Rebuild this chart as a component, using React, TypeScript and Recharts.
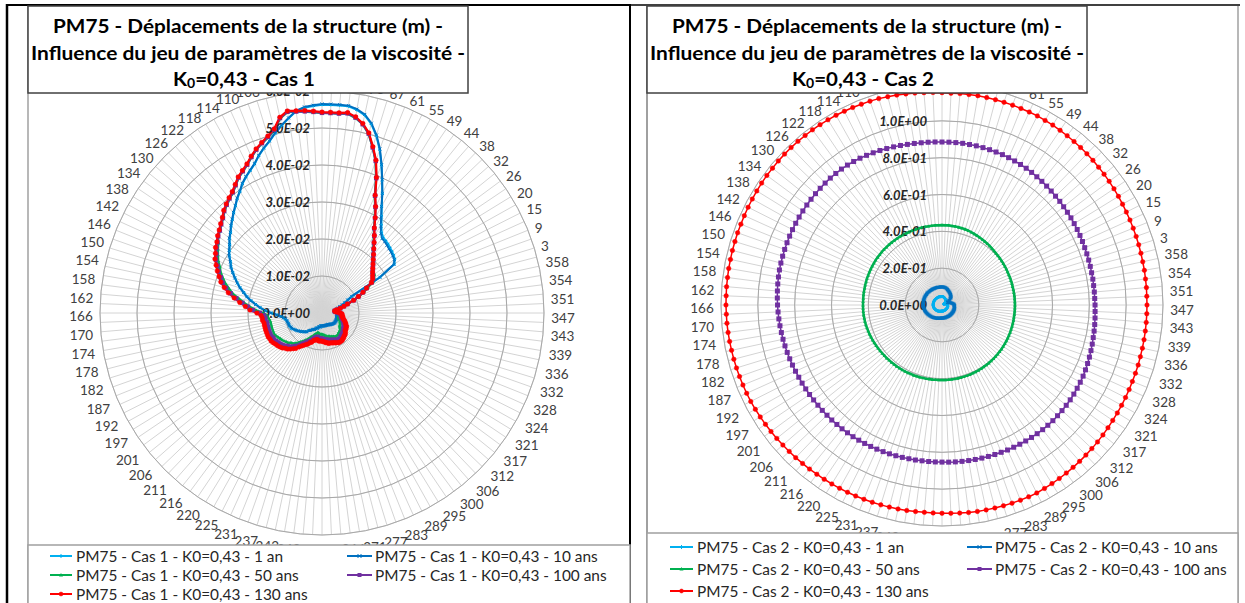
import React from 'react';
import { RadarChart, Radar, PolarGrid, PolarAngleAxis, PolarRadiusAxis } from 'recharts';

// Libellés d'angle (un libellé toutes les deux catégories)
const ANGLE_LABELS = [
  '84', '78', '73', '67', '61', '55', '49', '44', '38', '32', '26', '20', '15', '9', '3',
  '358', '354', '351', '347', '343', '339', '336', '332', '328', '324', '321', '317', '312',
  '306', '300', '295', '289', '283', '277', '271', '266', '260', '254', '248', '242', '237',
  '231', '225', '220', '216', '211', '206', '201', '197', '192', '187', '182', '178', '174',
  '170', '166', '162', '158', '154', '150', '146', '142', '138', '134', '130', '126', '122',
  '118', '114', '110', '106', '101', '96', '90',
];

const SERIES_NAMES = ['1 an', '10 ans', '50 ans', '100 ans', '130 ans'];
const SERIES_COLORS = ['#00B0F0', '#0070C0', '#00B050', '#7030A0', '#FF0000'];
const SERIES_MARKERS = ['plus', 'cross', 'triangle', 'square', 'circle'];

const CAS1_TICKS_MAX = 0.06;
const CAS2_TICKS_MAX = 1.2;

// Cas 1 - déplacements (m)
const CAS1_1AN = [
  0.0563, 0.0563, 0.0563, 0.0557, 0.0547, 0.0528, 0.0501, 0.0468, 0.0431, 0.0394,
  0.0362, 0.0331, 0.0307, 0.0287, 0.0271, 0.0263, 0.0261, 0.0258, 0.0255, 0.0252,
  0.0249, 0.0245, 0.0236, 0.0184, 0.0092, 0.0078, 0.0068, 0.0059, 0.0051, 0.0046,
  0.0043, 0.0041, 0.0041, 0.0041, 0.0041, 0.0041, 0.0041, 0.0041, 0.0041, 0.0041,
  0.0041, 0.0041, 0.0041, 0.0041, 0.0043, 0.0043, 0.0043, 0.0043, 0.0043, 0.0043,
  0.0043, 0.0043, 0.0043, 0.0043, 0.0041, 0.0041, 0.0041, 0.0038, 0.0038, 0.0038,
  0.0038, 0.0035, 0.0035, 0.0035, 0.0035, 0.0035, 0.0035, 0.0035, 0.0035, 0.0035,
  0.0035, 0.0035, 0.0035, 0.0035, 0.0035, 0.0035, 0.0038, 0.0038, 0.0038, 0.0041,
  0.0043, 0.0043, 0.0046, 0.0049, 0.0049, 0.0051, 0.0054, 0.0057, 0.0059, 0.0065,
  0.0068, 0.0070, 0.0073, 0.0076, 0.0078, 0.0081, 0.0084, 0.0086, 0.0089, 0.0092,
  0.0092, 0.0095, 0.0095, 0.0095, 0.0097, 0.0097, 0.0100, 0.0105, 0.0111, 0.0121,
  0.0137, 0.0153, 0.0167, 0.0180, 0.0194, 0.0207, 0.0218, 0.0231, 0.0242, 0.0253,
  0.0264, 0.0275, 0.0283, 0.0294, 0.0302, 0.0310, 0.0321, 0.0329, 0.0340, 0.0350,
  0.0361, 0.0372, 0.0385, 0.0396, 0.0410, 0.0421, 0.0431, 0.0442, 0.0458, 0.0472,
  0.0485, 0.0502, 0.0518, 0.0534, 0.0550, 0.0557, 0.0560, 0.0563,
];
const CAS1_10ANS = [
  0.0565, 0.0565, 0.0565, 0.0559, 0.0549, 0.0530, 0.0503, 0.0470, 0.0432, 0.0395,
  0.0362, 0.0330, 0.0305, 0.0284, 0.0268, 0.0259, 0.0257, 0.0254, 0.0251, 0.0249,
  0.0246, 0.0243, 0.0235, 0.0184, 0.0092, 0.0078, 0.0068, 0.0059, 0.0051, 0.0046,
  0.0043, 0.0041, 0.0041, 0.0041, 0.0041, 0.0041, 0.0041, 0.0041, 0.0041, 0.0041,
  0.0041, 0.0041, 0.0041, 0.0041, 0.0043, 0.0043, 0.0043, 0.0043, 0.0043, 0.0043,
  0.0043, 0.0043, 0.0043, 0.0043, 0.0041, 0.0041, 0.0041, 0.0038, 0.0038, 0.0038,
  0.0038, 0.0035, 0.0035, 0.0035, 0.0035, 0.0035, 0.0035, 0.0035, 0.0035, 0.0035,
  0.0035, 0.0035, 0.0035, 0.0035, 0.0035, 0.0035, 0.0038, 0.0038, 0.0038, 0.0041,
  0.0043, 0.0043, 0.0046, 0.0049, 0.0049, 0.0051, 0.0054, 0.0057, 0.0059, 0.0065,
  0.0068, 0.0070, 0.0073, 0.0076, 0.0078, 0.0081, 0.0084, 0.0086, 0.0089, 0.0092,
  0.0092, 0.0095, 0.0095, 0.0095, 0.0097, 0.0097, 0.0100, 0.0105, 0.0111, 0.0122,
  0.0138, 0.0154, 0.0168, 0.0181, 0.0195, 0.0208, 0.0219, 0.0232, 0.0243, 0.0254,
  0.0265, 0.0276, 0.0284, 0.0295, 0.0303, 0.0311, 0.0322, 0.0330, 0.0341, 0.0351,
  0.0362, 0.0373, 0.0386, 0.0397, 0.0411, 0.0422, 0.0432, 0.0443, 0.0459, 0.0473,
  0.0486, 0.0503, 0.0519, 0.0535, 0.0551, 0.0559, 0.0562, 0.0565,
];
const CAS1_50ANS = [
  0.0541, 0.0541, 0.0543, 0.0535, 0.0522, 0.0500, 0.0468, 0.0435, 0.0392, 0.0346,
  0.0319, 0.0292, 0.0268, 0.0250, 0.0234, 0.0220, 0.0208, 0.0197, 0.0189, 0.0181,
  0.0174, 0.0176, 0.0170, 0.0162, 0.0143, 0.0127, 0.0111, 0.0092, 0.0073, 0.0062,
  0.0051, 0.0041, 0.0035, 0.0035, 0.0038, 0.0043, 0.0049, 0.0051, 0.0049, 0.0046,
  0.0046, 0.0046, 0.0046, 0.0046, 0.0049, 0.0051, 0.0054, 0.0054, 0.0057, 0.0057,
  0.0059, 0.0059, 0.0062, 0.0065, 0.0068, 0.0068, 0.0070, 0.0070, 0.0073, 0.0073,
  0.0073, 0.0073, 0.0070, 0.0070, 0.0068, 0.0068, 0.0065, 0.0065, 0.0065, 0.0062,
  0.0062, 0.0059, 0.0059, 0.0057, 0.0057, 0.0057, 0.0057, 0.0054, 0.0054, 0.0057,
  0.0059, 0.0062, 0.0068, 0.0070, 0.0076, 0.0081, 0.0086, 0.0092, 0.0097, 0.0103,
  0.0108, 0.0114, 0.0116, 0.0122, 0.0124, 0.0127, 0.0130, 0.0132, 0.0135, 0.0138,
  0.0141, 0.0141, 0.0141, 0.0141, 0.0141, 0.0141, 0.0141, 0.0143, 0.0146, 0.0149,
  0.0159, 0.0178, 0.0195, 0.0211, 0.0227, 0.0246, 0.0259, 0.0273, 0.0284, 0.0295,
  0.0303, 0.0314, 0.0322, 0.0330, 0.0338, 0.0349, 0.0354, 0.0362, 0.0370, 0.0381,
  0.0389, 0.0397, 0.0405, 0.0416, 0.0430, 0.0438, 0.0449, 0.0462, 0.0476, 0.0486,
  0.0497, 0.0511, 0.0538, 0.0551, 0.0549, 0.0546, 0.0543, 0.0541,
];
const CAS1_100ANS = [
  0.0541, 0.0541, 0.0544, 0.0536, 0.0522, 0.0501, 0.0468, 0.0436, 0.0393, 0.0348,
  0.0321, 0.0294, 0.0269, 0.0252, 0.0236, 0.0222, 0.0210, 0.0200, 0.0191, 0.0183,
  0.0176, 0.0171, 0.0166, 0.0158, 0.0138, 0.0124, 0.0108, 0.0092, 0.0073, 0.0062,
  0.0051, 0.0041, 0.0035, 0.0035, 0.0037, 0.0042, 0.0047, 0.0051, 0.0051, 0.0051,
  0.0053, 0.0053, 0.0055, 0.0057, 0.0060, 0.0062, 0.0064, 0.0067, 0.0069, 0.0069,
  0.0071, 0.0071, 0.0074, 0.0076, 0.0078, 0.0078, 0.0081, 0.0081, 0.0084, 0.0084,
  0.0084, 0.0084, 0.0081, 0.0081, 0.0078, 0.0078, 0.0076, 0.0076, 0.0076, 0.0073,
  0.0073, 0.0071, 0.0071, 0.0069, 0.0069, 0.0069, 0.0069, 0.0066, 0.0066, 0.0069,
  0.0071, 0.0076, 0.0079, 0.0084, 0.0087, 0.0092, 0.0097, 0.0103, 0.0110, 0.0115,
  0.0121, 0.0126, 0.0129, 0.0134, 0.0137, 0.0140, 0.0142, 0.0145, 0.0148, 0.0148,
  0.0151, 0.0151, 0.0151, 0.0151, 0.0151, 0.0151, 0.0151, 0.0154, 0.0154, 0.0157,
  0.0168, 0.0187, 0.0201, 0.0217, 0.0235, 0.0253, 0.0268, 0.0281, 0.0290, 0.0301,
  0.0310, 0.0321, 0.0327, 0.0335, 0.0341, 0.0349, 0.0355, 0.0363, 0.0371, 0.0382,
  0.0390, 0.0398, 0.0406, 0.0417, 0.0430, 0.0439, 0.0449, 0.0463, 0.0476, 0.0487,
  0.0498, 0.0512, 0.0539, 0.0552, 0.0549, 0.0547, 0.0544, 0.0541,
];
const CAS1_130ANS = [
  0.0543, 0.0543, 0.0546, 0.0538, 0.0524, 0.0503, 0.0470, 0.0438, 0.0395, 0.0349,
  0.0322, 0.0295, 0.0270, 0.0253, 0.0237, 0.0223, 0.0211, 0.0200, 0.0191, 0.0183,
  0.0176, 0.0170, 0.0165, 0.0157, 0.0138, 0.0124, 0.0108, 0.0092, 0.0073, 0.0062,
  0.0051, 0.0041, 0.0035, 0.0035, 0.0038, 0.0043, 0.0049, 0.0054, 0.0054, 0.0054,
  0.0057, 0.0057, 0.0059, 0.0062, 0.0065, 0.0068, 0.0070, 0.0073, 0.0076, 0.0076,
  0.0078, 0.0078, 0.0081, 0.0084, 0.0086, 0.0086, 0.0089, 0.0089, 0.0092, 0.0092,
  0.0092, 0.0092, 0.0089, 0.0089, 0.0086, 0.0086, 0.0084, 0.0084, 0.0084, 0.0081,
  0.0081, 0.0078, 0.0078, 0.0076, 0.0076, 0.0076, 0.0076, 0.0073, 0.0073, 0.0076,
  0.0078, 0.0084, 0.0086, 0.0092, 0.0095, 0.0100, 0.0105, 0.0111, 0.0119, 0.0124,
  0.0130, 0.0135, 0.0138, 0.0143, 0.0146, 0.0149, 0.0151, 0.0154, 0.0157, 0.0157,
  0.0159, 0.0159, 0.0159, 0.0159, 0.0159, 0.0159, 0.0159, 0.0162, 0.0162, 0.0165,
  0.0176, 0.0195, 0.0208, 0.0224, 0.0241, 0.0259, 0.0273, 0.0286, 0.0295, 0.0305,
  0.0314, 0.0324, 0.0330, 0.0338, 0.0343, 0.0351, 0.0357, 0.0365, 0.0373, 0.0384,
  0.0392, 0.0400, 0.0408, 0.0419, 0.0432, 0.0441, 0.0451, 0.0465, 0.0478, 0.0489,
  0.0500, 0.0514, 0.0541, 0.0554, 0.0551, 0.0549, 0.0546, 0.0543,
];

// Cas 2 - déplacements (m)
const CAS2_1AN = [
  0.046, 0.046, 0.045, 0.045, 0.044, 0.043, 0.042, 0.041, 0.040, 0.039,
  0.038, 0.037, 0.036, 0.035, 0.034, 0.033, 0.032, 0.030, 0.028, 0.026,
  0.023, 0.020, 0.017, 0.014, 0.012, 0.011, 0.011, 0.012, 0.014, 0.017,
  0.020, 0.023, 0.025, 0.027, 0.028, 0.029, 0.030, 0.030, 0.031, 0.031,
  0.031, 0.031, 0.032, 0.032, 0.032, 0.032, 0.032, 0.032, 0.032, 0.032,
  0.032, 0.032, 0.032, 0.032, 0.032, 0.032, 0.032, 0.032, 0.032, 0.032,
  0.032, 0.032, 0.032, 0.032, 0.032, 0.032, 0.032, 0.033, 0.033, 0.033,
  0.033, 0.033, 0.033, 0.033, 0.033, 0.034, 0.034, 0.034, 0.035, 0.035,
  0.036, 0.036, 0.037, 0.037, 0.038, 0.038, 0.039, 0.039, 0.040, 0.040,
  0.041, 0.041, 0.042, 0.042, 0.043, 0.043, 0.044, 0.044, 0.045, 0.045,
  0.046, 0.046, 0.046, 0.047, 0.047, 0.047, 0.047, 0.047, 0.048, 0.048,
  0.048, 0.048, 0.048, 0.048, 0.048, 0.048, 0.048, 0.048, 0.048, 0.048,
  0.048, 0.048, 0.048, 0.048, 0.048, 0.048, 0.048, 0.047, 0.047, 0.047,
  0.047, 0.047, 0.047, 0.047, 0.047, 0.047, 0.047, 0.047, 0.047, 0.047,
  0.047, 0.047, 0.046, 0.046, 0.046, 0.046, 0.046, 0.046,
];
const CAS2_10ANS = [
  0.098, 0.098, 0.097, 0.096, 0.095, 0.093, 0.091, 0.089, 0.087, 0.085,
  0.083, 0.081, 0.079, 0.077, 0.075, 0.073, 0.071, 0.069, 0.067, 0.064,
  0.060, 0.055, 0.049, 0.043, 0.038, 0.035, 0.034, 0.035, 0.038, 0.042,
  0.047, 0.052, 0.056, 0.060, 0.063, 0.065, 0.066, 0.067, 0.068, 0.068,
  0.069, 0.069, 0.069, 0.070, 0.070, 0.070, 0.070, 0.070, 0.070, 0.070,
  0.070, 0.070, 0.070, 0.070, 0.070, 0.070, 0.070, 0.070, 0.070, 0.070,
  0.070, 0.070, 0.070, 0.070, 0.070, 0.070, 0.070, 0.071, 0.071, 0.071,
  0.071, 0.071, 0.071, 0.071, 0.071, 0.072, 0.072, 0.073, 0.073, 0.074,
  0.075, 0.076, 0.077, 0.078, 0.079, 0.080, 0.081, 0.082, 0.083, 0.084,
  0.085, 0.086, 0.087, 0.088, 0.089, 0.090, 0.091, 0.092, 0.093, 0.094,
  0.095, 0.096, 0.097, 0.098, 0.099, 0.100, 0.100, 0.101, 0.101, 0.102,
  0.102, 0.102, 0.103, 0.103, 0.103, 0.103, 0.103, 0.103, 0.103, 0.103,
  0.103, 0.103, 0.103, 0.103, 0.102, 0.102, 0.102, 0.102, 0.101, 0.101,
  0.101, 0.101, 0.100, 0.100, 0.100, 0.100, 0.099, 0.099, 0.099, 0.099,
  0.099, 0.099, 0.099, 0.098, 0.098, 0.098, 0.098, 0.098,
];
const CAS2_50ANS = [
  0.434, 0.434, 0.433, 0.433, 0.432, 0.431, 0.430, 0.428, 0.426, 0.424,
  0.422, 0.420, 0.418, 0.416, 0.414, 0.412, 0.410, 0.408, 0.406, 0.405,
  0.404, 0.403, 0.402, 0.401, 0.400, 0.399, 0.398, 0.398, 0.397, 0.397,
  0.396, 0.396, 0.396, 0.396, 0.396, 0.396, 0.396, 0.396, 0.396, 0.396,
  0.396, 0.397, 0.397, 0.398, 0.398, 0.399, 0.399, 0.400, 0.400, 0.401,
  0.401, 0.402, 0.402, 0.403, 0.403, 0.404, 0.404, 0.405, 0.405, 0.405,
  0.406, 0.406, 0.406, 0.406, 0.407, 0.407, 0.407, 0.407, 0.407, 0.407,
  0.407, 0.407, 0.407, 0.407, 0.407, 0.407, 0.408, 0.408, 0.409, 0.409,
  0.410, 0.410, 0.411, 0.411, 0.412, 0.412, 0.413, 0.413, 0.414, 0.414,
  0.415, 0.415, 0.416, 0.416, 0.417, 0.418, 0.419, 0.420, 0.421, 0.422,
  0.423, 0.424, 0.425, 0.426, 0.427, 0.428, 0.428, 0.429, 0.429, 0.429,
  0.429, 0.429, 0.429, 0.430, 0.430, 0.430, 0.431, 0.431, 0.432, 0.432,
  0.433, 0.433, 0.434, 0.434, 0.435, 0.435, 0.435, 0.436, 0.436, 0.436,
  0.436, 0.436, 0.436, 0.436, 0.436, 0.436, 0.435, 0.435, 0.435, 0.435,
  0.435, 0.435, 0.435, 0.434, 0.434, 0.434, 0.434, 0.434,
];
const CAS2_100ANS = [
  0.885, 0.885, 0.885, 0.884, 0.884, 0.883, 0.882, 0.881, 0.880, 0.878,
  0.876, 0.874, 0.872, 0.869, 0.866, 0.863, 0.860, 0.857, 0.854, 0.852,
  0.849, 0.847, 0.845, 0.843, 0.841, 0.839, 0.837, 0.835, 0.834, 0.833,
  0.832, 0.831, 0.831, 0.830, 0.830, 0.830, 0.831, 0.832, 0.834, 0.836,
  0.838, 0.840, 0.843, 0.846, 0.849, 0.852, 0.855, 0.858, 0.860, 0.862,
  0.864, 0.866, 0.867, 0.868, 0.869, 0.870, 0.870, 0.870, 0.869, 0.868,
  0.867, 0.866, 0.865, 0.864, 0.862, 0.861, 0.860, 0.859, 0.858, 0.857,
  0.856, 0.855, 0.854, 0.853, 0.853, 0.853, 0.853, 0.854, 0.854, 0.855,
  0.856, 0.857, 0.858, 0.859, 0.860, 0.861, 0.862, 0.863, 0.863, 0.864,
  0.864, 0.865, 0.865, 0.866, 0.866, 0.867, 0.868, 0.869, 0.870, 0.871,
  0.873, 0.875, 0.877, 0.879, 0.881, 0.883, 0.885, 0.887, 0.889, 0.891,
  0.893, 0.895, 0.897, 0.899, 0.901, 0.903, 0.904, 0.905, 0.906, 0.907,
  0.908, 0.909, 0.910, 0.911, 0.912, 0.913, 0.914, 0.915, 0.916, 0.917,
  0.918, 0.918, 0.918, 0.917, 0.915, 0.913, 0.910, 0.907, 0.904, 0.901,
  0.898, 0.895, 0.892, 0.890, 0.888, 0.887, 0.886, 0.885,
];
const CAS2_130ANS = [
  1.151, 1.152, 1.152, 1.153, 1.152, 1.152, 1.151, 1.151, 1.150, 1.150,
  1.150, 1.148, 1.147, 1.145, 1.143, 1.141, 1.139, 1.137, 1.135, 1.133,
  1.131, 1.129, 1.127, 1.125, 1.123, 1.121, 1.120, 1.119, 1.118, 1.117,
  1.116, 1.115, 1.115, 1.114, 1.114, 1.113, 1.113, 1.113, 1.113, 1.113,
  1.113, 1.113, 1.113, 1.114, 1.114, 1.114, 1.115, 1.116, 1.117, 1.118,
  1.119, 1.121, 1.123, 1.125, 1.127, 1.129, 1.131, 1.133, 1.135, 1.137,
  1.139, 1.141, 1.143, 1.143, 1.142, 1.141, 1.140, 1.139, 1.138, 1.137,
  1.136, 1.134, 1.132, 1.131, 1.130, 1.130, 1.131, 1.132, 1.133, 1.134,
  1.135, 1.136, 1.137, 1.138, 1.139, 1.140, 1.141, 1.142, 1.143, 1.145,
  1.146, 1.148, 1.149, 1.151, 1.153, 1.155, 1.157, 1.159, 1.161, 1.163,
  1.164, 1.165, 1.166, 1.167, 1.168, 1.169, 1.170, 1.171, 1.172, 1.172,
  1.173, 1.173, 1.174, 1.174, 1.175, 1.175, 1.176, 1.176, 1.177, 1.177,
  1.178, 1.179, 1.180, 1.181, 1.182, 1.183, 1.183, 1.184, 1.184, 1.184,
  1.184, 1.183, 1.183, 1.182, 1.181, 1.180, 1.178, 1.177, 1.175, 1.174,
  1.172, 1.169, 1.166, 1.163, 1.160, 1.157, 1.155, 1.153,
];

const CAS1_SERIES = [CAS1_1AN, CAS1_10ANS, CAS1_50ANS, CAS1_100ANS, CAS1_130ANS];
const CAS2_SERIES = [CAS2_1AN, CAS2_10ANS, CAS2_50ANS, CAS2_100ANS, CAS2_130ANS];

const FONT = 'Lato, "Noto Sans", sans-serif';
const N_CAT = CAS1_130ANS.length;
// Recharts décale les catégories d'une bande : on compense pour mettre la 1re en haut
const START_ANGLE = 90 - 360 / N_CAT;
const LABEL_SHIFT = 0.2;

const buildRows = (series: number[][]) =>
  series[0].map((_, i) => {
    const row: Record<string, number> = { idx: i };
    series.forEach((s, k) => { row[`s${k}`] = s[i]; });
    return row;
  });

// format 1.0E-02
const fmtE = (v: number) => {
  if (Math.abs(v) < 1e-12) return '0.0E+00';
  const e = Math.floor(Math.log10(Math.abs(v)) + 1e-9);
  const m = v / Math.pow(10, e);
  return `${m.toFixed(1)}E${e < 0 ? '-' : '+'}${String(Math.abs(e)).padStart(2, '0')}`;
};

const Marker = ({ kind, x, y, color, size }: { kind: string; x: number; y: number; color: string; size: number }) => {
  const h = size / 2;
  if (kind === 'circle') return <circle cx={x} cy={y} r={h} fill={color} stroke={color} strokeWidth={0.5} />;
  if (kind === 'square') return <rect x={x - h} y={y - h} width={size} height={size} fill={color} />;
  if (kind === 'triangle')
    return <polygon points={`${x},${y - h} ${x + h},${y + h * 0.8} ${x - h},${y + h * 0.8}`} fill={color} />;
  if (kind === 'cross')
    return (
      <path d={`M${x - h},${y - h}L${x + h},${y + h}M${x - h},${y + h}L${x + h},${y - h}`} stroke={color} strokeWidth={1} />
    );
  if (kind === 'plus')
    return <path d={`M${x - h},${y}L${x + h},${y}M${x},${y - h}L${x},${y + h}`} stroke={color} strokeWidth={1} />;
  return null;
};

const makeDot = (kind: string, color: string, size: number) => (props: any) => (
  <g key={`d-${props.index}`}>
    <Marker kind={kind} x={props.cx} y={props.cy} color={color} size={size} />
  </g>
);

const makeAngleTick = (cx: number, cy: number, R: number) => (props: any) => {
  const { x, y, payload } = props;
  const i = Number(payload.value);
  if (i % 2 !== 0) return <g />;
  const label = ANGLE_LABELS[i / 2];
  const d0 = ((Math.atan2(cy - y, x - cx) * 180) / Math.PI - LABEL_SHIFT) * Math.PI / 180;
  // les boîtes de texte Excel s'écrasent un peu vers l'horizontale
  const rad = d0 - (5 * Math.sin(d0) * Math.cos(d0) * Math.PI) / 180;
  const c = Math.cos(rad);
  const s = Math.sin(rad);
  const hw = label.length * 4;
  const r = R + 7 + hw * Math.abs(c) + 4 * Math.abs(s);
  return (
    <text x={cx + r * c} y={cy - r * s + 4} textAnchor="middle" dominantBaseline="central"
      fontFamily={FONT} fontSize={13.5} fill="#404040">
      {label}
    </text>
  );
};

const makeRadiusTick = (dx: number) => (props: any) => {
  const { x, y, payload } = props;
  return (
    <text x={x - dx} y={y} textAnchor="end" dominantBaseline="central" fontFamily={FONT}
      fontSize={13} fontWeight="bold" fontStyle="italic" fill="#262626">
      {fmtE(payload.value)}
    </text>
  );
};

interface PolarProps {
  series: number[][];
  max: number;
  width: number;
  height: number;
  cx: number;
  cy: number;
  R: number;
  tickDx: number;
  markerSizes: number[];
  strokeWidths: number[];
}

const Polar = ({ series, max, width, height, cx, cy, R, tickDx, markerSizes, strokeWidths }: PolarProps) => {
  const rows = buildRows(series);
  return (
    <RadarChart width={width} height={height} data={rows} cx={cx} cy={cy} outerRadius={R}
      startAngle={START_ANGLE} endAngle={START_ANGLE - 360} margin={{ top: 0, right: 0, bottom: 0, left: 0 }}>
      <PolarGrid gridType="circle" stroke="#d4d4d4" strokeWidth={1} />
      <PolarGrid gridType="circle" radialLines={false} stroke="#a8a8a8" strokeWidth={1} />
      {series.map((_, k) => (
        <Radar key={k} dataKey={`s${k}`} name={SERIES_NAMES[k]} stroke={SERIES_COLORS[k]}
          strokeWidth={strokeWidths[k]} fill="none" fillOpacity={0}
          dot={makeDot(SERIES_MARKERS[k], SERIES_COLORS[k], markerSizes[k])}
          isAnimationActive={false} />
      ))}
      <PolarAngleAxis dataKey="idx" type="category" tickLine={false} axisLine={false}
        tick={makeAngleTick(cx, cy, R)} />
      <PolarRadiusAxis angle={90} type="number" scale="linear" domain={[0, max]} tickCount={7}
        allowDecimals={true} allowDataOverflow={true} axisLine={false} tickLine={false}
        tick={makeRadiusTick(tickDx)} />
    </RadarChart>
  );
};

const LegendRow = ({ x1, x2, tx, y, k, cas }: { x1: number; x2: number; tx: number; y: number; k: number; cas: number }) => (
  <g>
    <line x1={x1} y1={y} x2={x2} y2={y} stroke={SERIES_COLORS[k]} strokeWidth={2} />
    <Marker kind={SERIES_MARKERS[k]} x={(x1 + x2) / 2} y={y} color={SERIES_COLORS[k]} size={4} />
    <text x={tx} y={y} dominantBaseline="central" fontFamily={FONT} fontSize={15.4} fill="#262626">
      {`PM75 - Cas ${cas} - K0=0,43 - ${SERIES_NAMES[k]}`}
    </text>
  </g>
);

const Title = ({ x, y, w, cas }: { x: number; y: number; w: number; cas: number }) => {
  const mid = x + w / 2;
  return (
    <g fontFamily={FONT} fontWeight="bold" fontSize={19} fill="#000">
      <rect x={x} y={y} width={w} height={93 - y} fill="#fff" stroke="#404040" strokeWidth={1.5} />
      <text x={mid} y={25} textAnchor="middle" dominantBaseline="central" textLength={390} lengthAdjust="spacingAndGlyphs">
        PM75 - Déplacements de la structure (m) -
      </text>
      <text x={mid} y={52} textAnchor="middle" dominantBaseline="central" textLength={434} lengthAdjust="spacingAndGlyphs">
        Influence du jeu de paramètres de la viscosité -
      </text>
      <text x={mid - 4} y={78} textAnchor="middle" dominantBaseline="central" textLength={142} lengthAdjust="spacingAndGlyphs">
        K<tspan fontSize={13} dy={5}>0</tspan><tspan dy={-5}>=0,43 - Cas {cas}</tspan>
      </text>
    </g>
  );
};

export default function App() {
  return (
    <div style={{ position: 'fixed', left: 0, top: 0, width: 1245, height: 603, background: '#fff', overflow: 'hidden' }}>
      <div style={{ position: 'absolute', left: 0, top: 0 }}>
        <Polar series={CAS1_SERIES} max={CAS1_TICKS_MAX} width={630} height={603} cx={322} cy={313} R={222}
          tickDx={12} markerSizes={[3, 3, 3.5, 4.5, 4.5]} strokeWidths={[2, 2, 2.25, 2.25, 2.25]} />
      </div>
      <div style={{ position: 'absolute', left: 630, top: 0 }}>
        <Polar series={CAS2_SERIES} max={CAS2_TICKS_MAX} width={615} height={603} cx={312} cy={305} R={221}
          tickDx={15} markerSizes={[3, 3, 3.5, 5, 4.5]} strokeWidths={[2.5, 3, 2.5, 1.5, 1.5]} />
      </div>
      <svg width={1245} height={603} style={{ position: 'absolute', left: 0, top: 0 }}>
        {/* cadres */}
        <line x1={7} y1={4} x2={7} y2={603} stroke="#000" strokeWidth={2.5} />
        <line x1={6} y1={5} x2={630} y2={5} stroke="#000" strokeWidth={2} />
        <line x1={630} y1={4} x2={630} y2={603} stroke="#000" strokeWidth={2} />
        <line x1={28} y1={6} x2={28} y2={603} stroke="#a0a0a0" strokeWidth={1.5} />
        <line x1={630} y1={5} x2={1240} y2={5} stroke="#000" strokeWidth={1.5} />
        <line x1={647} y1={6} x2={647} y2={603} stroke="#808080" strokeWidth={1.5} />
        <line x1={1238} y1={6} x2={1238} y2={603} stroke="#a0a0a0" strokeWidth={1.5} />

        <Title x={28} y={6} w={440} cas={1} />
        <Title x={647} y={6} w={440} cas={2} />

        <rect x={28} y={545} width={602} height={70} fill="#fff" stroke="#a0a0a0" strokeWidth={1.5} />
        <LegendRow x1={50} x2={72} tx={76} y={556} k={0} cas={1} />
        <LegendRow x1={347} x2={372} tx={375} y={556} k={1} cas={1} />
        <LegendRow x1={50} x2={72} tx={76} y={575} k={2} cas={1} />
        <LegendRow x1={347} x2={372} tx={375} y={575} k={3} cas={1} />
        <LegendRow x1={50} x2={72} tx={76} y={594} k={4} cas={1} />

        <rect x={647} y={533} width={591} height={80} fill="#fff" stroke="#a0a0a0" strokeWidth={1.5} />
        <LegendRow x1={670} x2={693} tx={697} y={547} k={0} cas={2} />
        <LegendRow x1={967} x2={992} tx={995} y={547} k={1} cas={2} />
        <LegendRow x1={670} x2={693} tx={697} y={569} k={2} cas={2} />
        <LegendRow x1={967} x2={992} tx={995} y={569} k={3} cas={2} />
        <LegendRow x1={670} x2={693} tx={697} y={591} k={4} cas={2} />
      </svg>
    </div>
  );
}
